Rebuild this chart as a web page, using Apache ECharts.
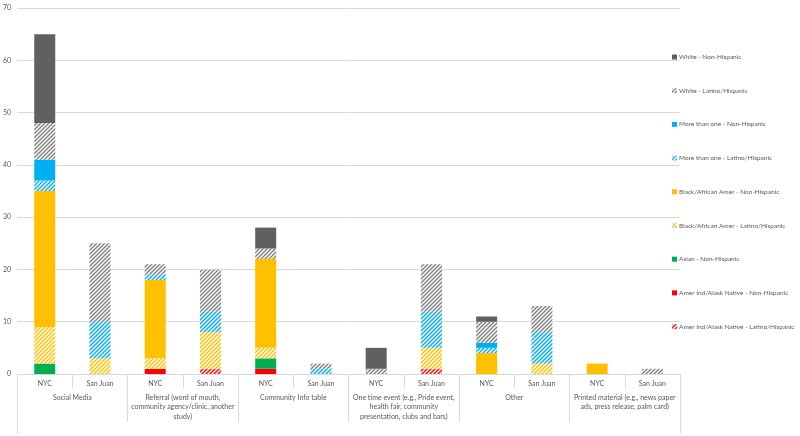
<!DOCTYPE html>
<html>
<head>
<meta charset="utf-8">
<script src="https://cdn.jsdelivr.net/npm/echarts@6/dist/echarts.min.js"></script>
<style>html,body{margin:0;padding:0;background:#fff;}#c{width:800px;height:436px;}</style>
</head>
<body>
<div id="c"></div>
<script>
var categories = ['NYC','San Juan','NYC','San Juan','NYC','San Juan','NYC','San Juan','NYC','San Juan','NYC','San Juan'];
var groups = [
  'Social Media',
  'Referral (word of mouth,\ncommunity agency/clinic, another\nstudy)',
  'Community Info table',
  'One time event (e.g., Pride event,\nhealth fair, community\npresentation, clubs and bars)',
  'Other',
  'Printed material (e.g., news paper\nads, press release, palm card)'
];
var yTicks = [0,10,20,30,40,50,60,70];

var amerIndLatino  = [0,0,0,1,0,0,0,1,0,0,0,0];
var amerIndNonHisp = [0,0,1,0,1,0,0,0,0,0,0,0];
var asianNonHisp   = [2,0,0,0,2,0,0,0,0,0,0,0];
var blackLatino    = [7,3,2,7,2,0,0,4,0,2,0,0];
var blackNonHisp   = [26,0,15,0,17,0,0,0,4,0,2,0];
var moreLatino     = [2,7,1,4,0,1,0,7,1,6,0,0];
var moreNonHisp    = [4,0,0,0,0,0,0,0,1,0,0,0];
var whiteLatino    = [7,15,2,8,2,1,1,9,4,5,0,1];
var whiteNonHisp   = [17,0,0,0,4,0,4,0,1,0,0,0];

function hatch(color){
  var c = document.createElement('canvas');
  c.width = 4; c.height = 4;
  var g = c.getContext('2d');
  g.fillStyle = '#ffffff'; g.fillRect(0,0,4,4);
  g.strokeStyle = color; g.lineWidth = 1.4;
  g.beginPath();
  g.moveTo(0,4); g.lineTo(4,0);
  g.moveTo(-1,1); g.lineTo(1,-1);
  g.moveTo(3,5); g.lineTo(5,3);
  g.stroke();
  return {image: c, repeat: 'repeat'};
}

var seriesDefs = [
  {name:'Amer Ind/Alask Native - Latino/Hispanic', data: amerIndLatino, color: hatch('#ff0000')},
  {name:'Amer Ind/Alask Native - Non-Hispanic', data: amerIndNonHisp, color: '#ff0000'},
  {name:'Asian - Non-Hispanic', data: asianNonHisp, color: '#00b050'},
  {name:'Black/African Amer - Latino/Hispanic', data: blackLatino, color: hatch('#ffc000')},
  {name:'Black/African Amer - Non-Hispanic', data: blackNonHisp, color: '#ffc000'},
  {name:'More than one - Latino/Hispanic', data: moreLatino, color: hatch('#00b0f0')},
  {name:'More than one - Non-Hispanic', data: moreNonHisp, color: '#00b0f0'},
  {name:'White - Latino/Hispanic', data: whiteLatino, color: hatch('#7f7f7f')},
  {name:'White - Non-Hispanic', data: whiteNonHisp, color: '#606060'}
];

var font = 'Lato, "Open Sans", sans-serif';
var chart = echarts.init(document.getElementById('c'));
chart.setOption({
  animation: false,
  backgroundColor: '#ffffff',
  grid: {left: 15, right: 120, top: 8, bottom: 62, containLabel: false},
  legend: {
    orient: 'vertical',
    left: 672,
    top: 53,
    padding: 0,
    itemWidth: 5,
    itemHeight: 5,
    itemGap: 25.7,
    icon: 'rect',
    textStyle: {fontSize: 6.5, color: '#595959', fontFamily: font, lineHeight: 8, padding: [0,0,0,-3]},
    data: seriesDefs.map(function(s){return s.name;}).reverse()
  },
  xAxis: [
    {
      type: 'category', data: categories, position: 'bottom',
      axisLine: {show: true, lineStyle: {color: '#d9d9d9'}},
      axisTick: {show: true, length: 14, interval: 0, lineStyle: {color: '#d9d9d9'}},
      axisLabel: {interval: 0, margin: 5, fontSize: 7, color: '#595959', fontFamily: font, lineHeight: 9}
    },
    {
      type: 'category', data: groups, position: 'bottom', gridIndex: 0,
      axisLine: {show: false},
      axisTick: {show: true, length: 48, interval: 0, lineStyle: {color: '#d9d9d9'}},
      axisLabel: {interval: 0, margin: 19, fontSize: 7, color: '#595959', fontFamily: font, lineHeight: 9.3}
    },
    {
      type: 'category', data: [''], position: 'bottom', gridIndex: 0,
      axisLine: {show: false},
      axisTick: {show: true, length: 59, lineStyle: {color: '#d9d9d9'}},
      axisLabel: {show: false}
    }
  ],
  yAxis: {
    type: 'value', min: yTicks[0], max: yTicks[yTicks.length-1], interval: 10,
    axisLine: {show: false}, axisTick: {show: false},
    splitLine: {lineStyle: {color: '#d9d9d9'}},
    axisLabel: {margin: 6, fontSize: 7, color: '#595959', fontFamily: font}
  },
  series: seriesDefs.map(function(s){
    return {
      name: s.name, type: 'bar', stack: 'total', xAxisIndex: 0,
      barWidth: 21, data: s.data,
      itemStyle: {color: s.color}
    };
  })
});
</script>
</body>
</html>
